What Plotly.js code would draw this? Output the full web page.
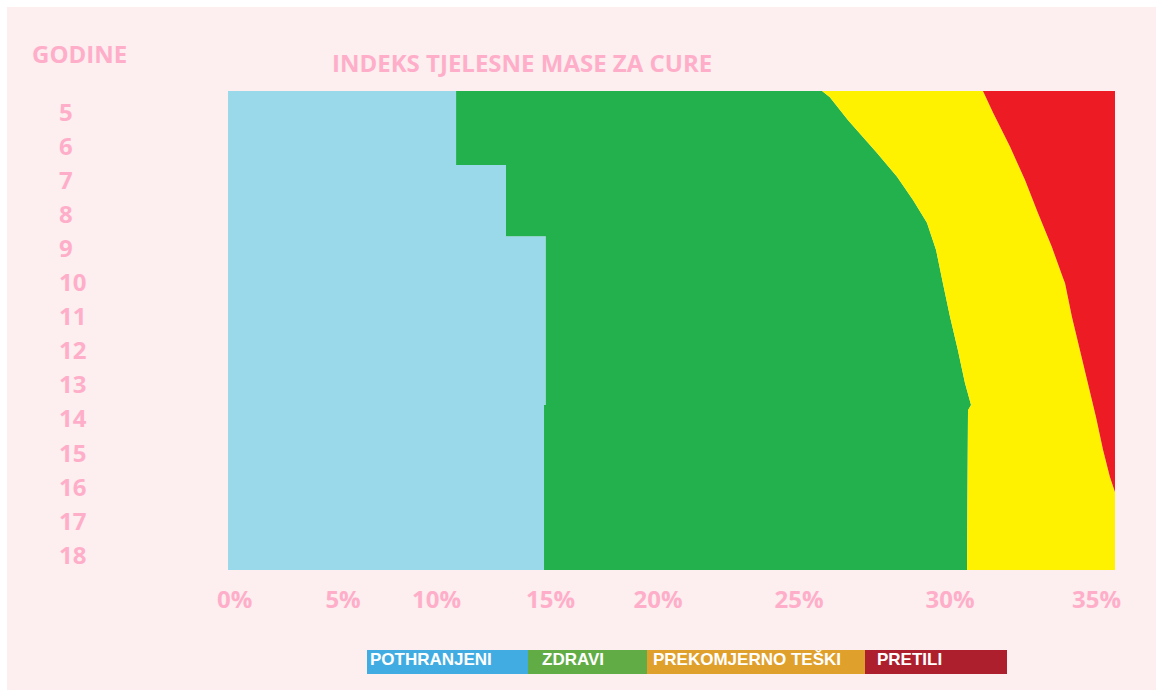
<!DOCTYPE html>
<html>
<head>
<meta charset="utf-8">
<script src="https://cdn.plot.ly/plotly-3.0.1.min.js"></script>
<style>
  html, body { margin: 0; padding: 0; background: #ffffff; }
  #chart { position: absolute; left: 7px; top: 7px; width: 1149px; height: 683px; }
</style>
</head>
<body>
<div id="chart"></div>
<script>
// ---- data ----
const categories = ['POTHRANJENI', 'ZDRAVI', 'PREKOMJERNO TEŠKI', 'PRETILI'];
const ageTicks = [5, 6, 7, 8, 9, 10, 11, 12, 13, 14, 15, 16, 17, 18];
const xTickText = ['0%', '5%', '10%', '15%', '20%', '25%', '30%', '35%'];

// lower edge of the chart (0) at the top and bottom ages
const baseAge = [4.37, 18.43];
const baseVal = [0, 0];

// upper limit of "POTHRANJENI"
const underAge = [4.37, 6.54, 6.54, 8.63, 8.63, 13.59, 13.59, 18.43];
const underMax = [9.0, 9.0, 10.97, 10.97, 12.54, 12.54, 12.47, 12.47];

// upper limit of "ZDRAVI"
const healthyAge = [4.37, 4.55, 5.22, 6.19, 6.89, 7.57, 8.24, 9.04, 10.01, 11.0, 11.97, 12.94, 13.59, 13.74, 18.43];
const healthyMax = [23.44, 23.75, 24.46, 25.61, 26.40, 27.03, 27.58, 27.94, 28.21, 28.49, 28.80, 29.08, 29.32, 29.20, 29.16];

// upper limit of "PREKOMJERNO TEŠKI"
const overAge = [4.37, 5.01, 6.01, 6.98, 7.95, 8.95, 9.86, 10.01, 11.0, 11.97, 12.94, 13.94, 14.91, 15.70, 16.14, 18.43];
const overMax = [29.79, 30.19, 30.86, 31.45, 31.96, 32.51, 32.95, 33.03, 33.30, 33.62, 33.93, 34.25, 34.53, 34.80, 35.0, 35.0];

// upper limit of "PRETILI"
const obeseAge = [4.37, 18.43];
const obeseMax = [35, 35];

// ---- styling ----
const areaColors = ['#99d9ea', '#22b14c', '#fff200', '#ed1c24'];
const legendColors = ['#41ace2', '#62ac46', '#e0a02c', '#ae1f2e'];
const pink = '#ffaec9';
const bg = '#fdeef0';
const pinkFont = {family: 'Open Sans, sans-serif', size: 24, color: pink, weight: 700};

function band(x, y, name, color, fill) {
  return {
    type: 'scatter', mode: 'lines', x: x, y: y, name: name,
    line: {width: 0, color: color}, fill: fill, fillcolor: color,
    hoverinfo: 'skip', showlegend: false
  };
}

const traces = [
  band(baseVal, baseAge, '', 'rgba(0,0,0,0)', 'none'),
  band(underMax, underAge, categories[0], areaColors[0], 'tonextx'),
  band(healthyMax, healthyAge, categories[1], areaColors[1], 'tonextx'),
  band(overMax, overAge, categories[2], areaColors[2], 'tonextx'),
  band(obeseMax, obeseAge, categories[3], areaColors[3], 'tonextx')
];

// geometry helpers (page pixel -> paper fraction)
const W = 1149, H = 683, mL = 48, mR = 41, mT = 84, mB = 120;
const pw = W - mL - mR, ph = H - mT - mB;
const px = p => (p - 7 - mL) / pw;
const py = p => (H - mB - (p - 7)) / ph;

// custom legend bar
const segEdges = [367, 528, 647, 865, 1007];
const textStarts = [369, 541, 652, 876];
const shapes = [], annotations = [];
categories.forEach((c, i) => {
  shapes.push({type: 'rect', xref: 'paper', yref: 'paper',
    x0: px(segEdges[i]), x1: px(segEdges[i + 1]), y0: py(674), y1: py(650),
    fillcolor: legendColors[i], line: {width: 0}, layer: 'above'});
  annotations.push({xref: 'paper', yref: 'paper', x: px(textStarts[i]), y: py(659),
    xanchor: 'left', yanchor: 'middle', text: c, showarrow: false, borderpad: 0,
    font: {family: 'Liberation Sans, Arial, sans-serif', size: 17, color: '#ffffff', weight: 700}});
});
annotations.push({xref: 'paper', yref: 'paper', x: px(79.5), y: py(54),
  xanchor: 'center', yanchor: 'middle', text: 'GODINE', showarrow: false, font: pinkFont});

const layout = {
  width: W, height: H,
  paper_bgcolor: bg, plot_bgcolor: bg,
  margin: {l: mL, r: mR, t: mT, b: mB, pad: 0},
  title: {text: 'INDEKS TJELESNE MASE ZA CURE', font: pinkFont,
    x: (332 - 7) / W, xanchor: 'left', y: 1 - (64 - 7) / H, yanchor: 'middle'},
  xaxis: {range: [0, 35], domain: [px(228), 1], anchor: 'y',
    tickmode: 'array', tickvals: [0.26, 4.54, 8.23, 12.73, 16.97, 22.53, 28.49, 34.27], ticktext: xTickText,
    ticks: '', showgrid: false, zeroline: false, showline: false,
    tickfont: pinkFont, ticklabelstandoff: 13, fixedrange: true},
  yaxis: {range: [18.43, 4.37], anchor: 'free', position: 0,
    tickmode: 'array', tickvals: ageTicks, ticktext: ageTicks.map(String),
    ticks: '', showgrid: false, zeroline: false, showline: false,
    ticklabelposition: 'inside', ticklabeloverflow: 'allow', tickfont: pinkFont, fixedrange: true},
  shapes: shapes,
  annotations: annotations,
  showlegend: false
};

Plotly.newPlot('chart', traces, layout, {displayModeBar: false, staticPlot: true});
</script>
</body>
</html>
